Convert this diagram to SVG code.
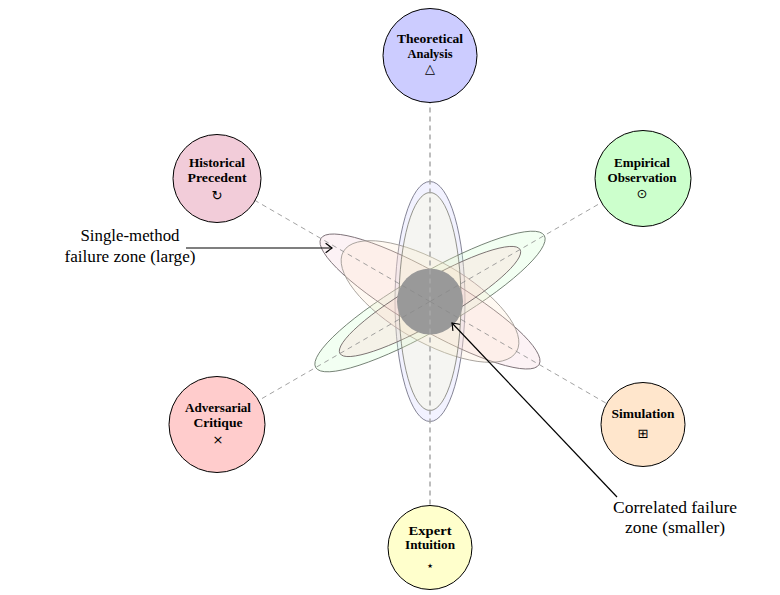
<svg xmlns="http://www.w3.org/2000/svg" width="780" height="595" viewBox="0 0 780 595">
<defs>
<style>
.node{stroke:#000;stroke-width:1}
.nt{font-family:"Liberation Serif","Times New Roman",serif;font-weight:bold;font-size:12px;fill:#000;text-anchor:middle}
.sym{font-family:"DejaVu Sans",sans-serif;font-size:13px;fill:#000;text-anchor:middle}
.lbl{font-family:"Liberation Serif","Times New Roman",serif;font-size:16px;fill:#000;text-anchor:middle}
.zone{stroke-width:0.8;fill-opacity:0.25}
.dash{stroke:#8a8a8a;stroke-width:0.8;stroke-dasharray:5 4;fill:none}
.dashv{stroke:#a8a8a8;stroke-width:1.5;stroke-dasharray:5 4;fill:none}
.arr{stroke:#000;stroke-width:1.2;fill:none;marker-end:url(#tip)}
</style>
<marker id="tip" markerUnits="userSpaceOnUse" markerWidth="14" markerHeight="14" viewBox="-8 -7 10 14" refX="0" refY="0" orient="auto">
<path d="M-6,-4.5 Q-1.5,-1 0,0 Q-1.5,1 -6,4.5" fill="none" stroke="#000" stroke-width="1.2" stroke-linecap="round"/>
</marker>
</defs>
<rect width="780" height="595" fill="#fff"/>

<g id="zones">
<ellipse class="zone" cx="430" cy="301.5" rx="35" ry="120" fill="#ccccff" stroke="#66667a"/>
<ellipse class="zone" cx="0" cy="0" rx="132" ry="28" transform="translate(430 301.5) rotate(-30)" fill="#ccffcc" stroke="#667466"/>
<ellipse class="zone" cx="0" cy="0" rx="126" ry="28" transform="translate(430 301.5) rotate(30)" fill="#f2ccd9" stroke="#6e6268"/>
<ellipse class="zone" cx="0" cy="0" rx="100" ry="40" transform="translate(430 301.5) rotate(30)" fill="#ffe6cc" stroke="#a09a94"/>
<ellipse class="zone" cx="0" cy="0" rx="104" ry="21" transform="translate(430 301.5) rotate(-30)" fill="#ffcccc" stroke="#6e6464"/>
<ellipse class="zone" cx="430" cy="301.5" rx="31" ry="109" fill="#ffffcc" stroke="#7a7a70"/>
<circle cx="430" cy="301.5" r="33" fill="#999999"/>
</g>

<g id="connectors">
<line class="dashv" x1="430" y1="301.5" x2="430" y2="55.5"/>
<line class="dashv" x1="430" y1="301.5" x2="430" y2="547.5"/>
<line class="dash" x1="430" y1="301.5" x2="643" y2="178.5"/>
<line class="dash" x1="430" y1="301.5" x2="217" y2="424.5"/>
<line class="dash" x1="430" y1="301.5" x2="217" y2="178.5"/>
<line class="dash" x1="430" y1="301.5" x2="643" y2="424.5"/>
<line class="arr" x1="186" y1="248" x2="332" y2="248"/>
<line class="arr" x1="617" y1="497" x2="452" y2="323"/>
</g>

<g id="theoretical">
<circle class="node" cx="430" cy="55.5" r="47" fill="#ccccff"/>
<text class="nt" x="430" y="43" textLength="66" lengthAdjust="spacingAndGlyphs">Theoretical</text>
<text class="nt" x="430" y="58" textLength="45" lengthAdjust="spacingAndGlyphs">Analysis</text>
<text class="sym" x="430" y="73" font-size="14">△</text>
</g>

<g id="empirical">
<circle class="node" cx="643" cy="178.5" r="48" fill="#ccffcc"/>
<text class="nt" x="642" y="167" textLength="56" lengthAdjust="spacingAndGlyphs">Empirical</text>
<text class="nt" x="642" y="182" textLength="69" lengthAdjust="spacingAndGlyphs">Observation</text>
<text class="sym" x="642" y="198" font-size="14">⊙</text>
</g>

<g id="historical">
<circle class="node" cx="217" cy="178.5" r="44" fill="#f2ccd9"/>
<text class="nt" x="217" y="167" textLength="56" lengthAdjust="spacingAndGlyphs">Historical</text>
<text class="nt" x="217" y="182" textLength="59" lengthAdjust="spacingAndGlyphs">Precedent</text>
<text class="sym" x="217" y="200" font-size="13">↻</text>
</g>

<g id="adversarial">
<circle class="node" cx="217" cy="424.5" r="48" fill="#ffcccc"/>
<text class="nt" x="218" y="412" textLength="66" lengthAdjust="spacingAndGlyphs">Adversarial</text>
<text class="nt" x="218" y="427" textLength="49" lengthAdjust="spacingAndGlyphs">Critique</text>
<text class="sym" x="218" y="444" font-size="13">×</text>
</g>

<g id="simulation">
<circle class="node" cx="643" cy="424.5" r="42" fill="#ffe6cc"/>
<text class="nt" x="643" y="418" textLength="63" lengthAdjust="spacingAndGlyphs">Simulation</text>
<text class="sym" x="643" y="438" font-size="15">⊞</text>
</g>

<g id="expert">
<circle class="node" cx="430" cy="547.5" r="42" fill="#ffffcc"/>
<text class="nt" x="430" y="535" textLength="43" lengthAdjust="spacingAndGlyphs">Expert</text>
<text class="nt" x="430" y="549" textLength="50" lengthAdjust="spacingAndGlyphs">Intuition</text>
<text class="sym" x="430" y="570" font-size="19">⋆</text>
</g>

<g id="labels">
<text class="lbl" x="130" y="241" textLength="99" lengthAdjust="spacingAndGlyphs">Single-method</text>
<text class="lbl" x="130" y="262" textLength="131" lengthAdjust="spacingAndGlyphs">failure zone (large)</text>
<text class="lbl" x="675" y="513" textLength="124" lengthAdjust="spacingAndGlyphs">Correlated failure</text>
<text class="lbl" x="675" y="533" textLength="100" lengthAdjust="spacingAndGlyphs">zone (smaller)</text>
</g>
</svg>
